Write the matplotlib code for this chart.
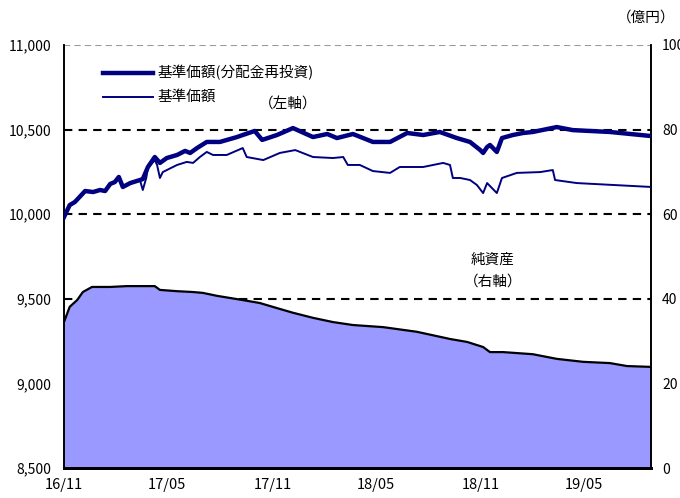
import matplotlib
matplotlib.use("Agg")
import matplotlib.pyplot as plt
import pandas as pd

plt.rcParams['font.family'] = ['Noto Sans CJK JP', 'DejaVu Sans']

# 基準価額(分配金再投資) (left axis, yen)
nav_re_dates = ["2016-11-01", "2016-11-11", "2016-11-20", "2016-12-08", "2016-12-22", "2017-01-03",
                "2017-01-12", "2017-01-21", "2017-01-29", "2017-02-05", "2017-02-12", "2017-02-25",
                "2017-03-14", "2017-03-19", "2017-03-28", "2017-04-09", "2017-04-18", "2017-04-30",
                "2017-05-18", "2017-06-01", "2017-06-10", "2017-06-22", "2017-07-09", "2017-08-01",
                "2017-08-31", "2017-09-10", "2017-10-01", "2017-10-14", "2017-11-09", "2017-12-07",
                "2018-01-11", "2018-02-05", "2018-02-22", "2018-03-22", "2018-04-26", "2018-05-26",
                "2018-06-25", "2018-07-23", "2018-08-21", "2018-09-20", "2018-10-13", "2018-10-31",
                "2018-11-05", "2018-11-12", "2018-11-17", "2018-11-29", "2018-12-08", "2018-12-27",
                "2019-01-14", "2019-01-31", "2019-03-14", "2019-04-11", "2019-06-15", "2019-08-26"]
nav_re = [9983, 10054, 10072, 10137, 10131, 10143,
          10137, 10179, 10190, 10220, 10161, 10184,
          10202, 10208, 10279, 10338, 10303, 10332,
          10350, 10374, 10362, 10391, 10427, 10427,
          10456, 10468, 10492, 10439, 10468, 10509,
          10456, 10474, 10450, 10474, 10427, 10427,
          10480, 10468, 10486, 10450, 10427, 10379,
          10362, 10397, 10409, 10368, 10450, 10468,
          10480, 10486, 10515, 10497, 10486, 10462]

# 基準価額 (left axis, yen)
nav_dates = ["2016-11-01", "2016-11-11", "2016-11-20", "2016-12-08", "2016-12-22", "2017-01-03",
             "2017-01-12", "2017-01-21", "2017-01-29", "2017-02-05", "2017-02-12", "2017-02-25",
             "2017-03-14", "2017-03-19", "2017-03-25", "2017-03-28", "2017-04-09", "2017-04-13",
             "2017-04-18", "2017-04-23", "2017-05-18", "2017-06-04", "2017-06-15", "2017-06-27",
             "2017-07-09", "2017-07-20", "2017-08-13", "2017-09-10", "2017-09-17", "2017-10-16",
             "2017-11-14", "2017-12-11", "2018-01-11", "2018-02-15", "2018-03-05", "2018-03-13",
             "2018-04-03", "2018-04-26", "2018-05-26", "2018-06-12", "2018-07-23", "2018-08-27",
             "2018-09-08", "2018-09-13", "2018-09-26", "2018-10-13", "2018-10-25", "2018-11-05",
             "2018-11-12", "2018-11-29", "2018-12-08", "2019-01-03", "2019-02-13", "2019-03-07",
             "2019-03-11", "2019-04-18", "2019-08-26"]
nav = [9983, 10054, 10072, 10137, 10131, 10143,
       10137, 10179, 10190, 10220, 10161, 10184,
       10202, 10143, 10214, 10273, 10320, 10291,
       10214, 10249, 10291, 10309, 10303, 10338,
       10368, 10350, 10350, 10391, 10338, 10320,
       10362, 10379, 10338, 10332, 10338, 10291,
       10291, 10255, 10244, 10279, 10279, 10303,
       10291, 10214, 10214, 10202, 10173, 10125,
       10184, 10125, 10214, 10244, 10249, 10261,
       10202, 10184, 10161]

# 純資産 (right axis, 億円)
na_dates = ["2016-11-01", "2016-11-11", "2016-11-24", "2016-12-04", "2016-12-20", "2017-01-21",
            "2017-02-19", "2017-03-18", "2017-04-09", "2017-04-18", "2017-05-18", "2017-06-15",
            "2017-07-02", "2017-07-27", "2017-09-10", "2017-10-10", "2017-11-09", "2017-12-07",
            "2018-01-11", "2018-02-15", "2018-03-22", "2018-05-14", "2018-07-12", "2018-09-08",
            "2018-10-08", "2018-11-05", "2018-11-17", "2018-12-10", "2019-01-31", "2019-03-14",
            "2019-04-29", "2019-06-15", "2019-07-15", "2019-08-26"]
net_assets = [34.5, 38.1, 39.7, 41.6, 42.8, 42.8,
              43.0, 43.0, 43.0, 42.1, 41.8, 41.6,
              41.4, 40.7, 39.7, 39.0, 37.8, 36.7,
              35.5, 34.5, 33.8, 33.3, 32.2, 30.5,
              29.8, 28.6, 27.4, 27.4, 26.9, 25.8,
              25.1, 24.8, 24.1, 23.9]

x_ticks = ["2016-11-01", "2017-05-01", "2017-11-01", "2018-05-01", "2018-11-01", "2019-05-01"]
x_labels = ["16/11", "17/05", "17/11", "18/05", "18/11", "19/05"]
left_ticks = [8500, 9000, 9500, 10000, 10500, 11000]
right_ticks = [0, 20, 40, 60, 80, 100]

fig = plt.figure(figsize=(6.8, 4.98), dpi=100)
axr = fig.add_axes([64 / 680, 30 / 498, 587 / 680, 423 / 498])
axl = axr.twinx()

xmin = pd.Timestamp("2016-11-01")
xmax = pd.Timestamp("2019-08-26")

# fill (right axis)
nd = pd.to_datetime(na_dates)
axr.fill_between(nd, 0, net_assets, color="#9999FF", lw=0, zorder=2)
axr.plot(nd, net_assets, color="black", lw=1.6, zorder=3)
for v in [40, 60, 80]:
    axr.axhline(v, color="black", lw=1.5, ls=(0, (4, 3)), zorder=1)
axr.axhline(100, color="#999999", lw=1.5, ls=(0, (3, 2)), zorder=1)
axr.set_ylim(0, 100)
axr.set_xlim(xmin, xmax)

axl.plot(pd.to_datetime(nav_re_dates), nav_re, color="#000080", lw=3.2, zorder=3)
axl.plot(pd.to_datetime(nav_dates), nav, color="#000080", lw=1.4, zorder=4)
axl.set_ylim(8500, 11000)
axl.set_xlim(xmin, xmax)

# ticks
axl.yaxis.tick_left()
axr.yaxis.tick_right()
axl.set_yticks(left_ticks)
axl.set_yticklabels([f"{v:,}" for v in left_ticks], fontsize=10)
axr.set_yticks(right_ticks)
axr.set_yticklabels([str(v) for v in right_ticks], fontsize=10)
axl.tick_params(axis='y', length=0, pad=9)
axr.tick_params(axis='y', length=0, pad=8)

axr.set_xticks(pd.to_datetime(x_ticks))
axr.set_xticklabels(x_labels, fontsize=10.5)
axr.tick_params(axis='x', direction='in', length=4, width=1, pad=7)

for ax in (axl, axr):
    ax.spines['top'].set_visible(False)
    ax.spines['left'].set_linewidth(1.2)
    ax.spines['right'].set_linewidth(1.2)
    ax.spines['bottom'].set_linewidth(2)

# legend
fig.add_artist(plt.Line2D([103 / 680, 153 / 680], [1 - 73 / 498, 1 - 73 / 498], color="#000080", lw=3.2))
fig.add_artist(plt.Line2D([103 / 680, 153 / 680], [1 - 97 / 498, 1 - 97 / 498], color="#000080", lw=1.4))
fig.text(158 / 680, 1 - 73 / 498, "基準価額(分配金再投資)", fontsize=10.5, va="center", ha="left")
fig.text(158 / 680, 1 - 97 / 498, "基準価額", fontsize=10.5, va="center", ha="left")
fig.text(288 / 680, 1 - 105 / 498, "（左軸）", fontsize=10.5, va="center", ha="center")
fig.text(493 / 680, 1 - 260 / 498, "純資産", fontsize=10.5, va="center", ha="center")
fig.text(493 / 680, 1 - 282 / 498, "（右軸）", fontsize=10.5, va="center", ha="center")
fig.text(646 / 680, 1 - 18 / 498, "（億円）", fontsize=10.5, va="center", ha="center")

fig.savefig("out.png", dpi=100)
